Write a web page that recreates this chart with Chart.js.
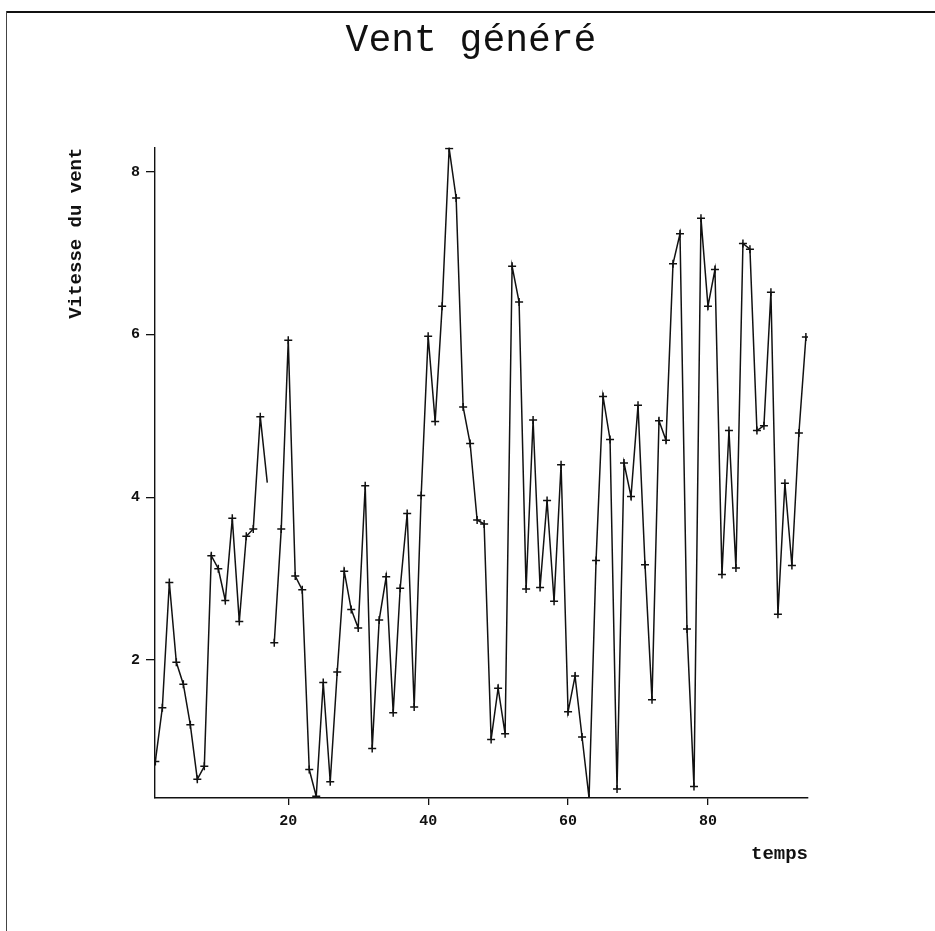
<!DOCTYPE html>
<html lang="fr">
<head>
<meta charset="utf-8">
<title>Vent généré</title>
<script src="https://cdn.jsdelivr.net/npm/chart.js@4.4.1/dist/chart.umd.min.js"></script>
<style>
  html, body { margin: 0; padding: 0; background: #fff; }
  #frame { position: relative; width: 935px; height: 931px; overflow: hidden; }
  #frame canvas { position: absolute; left: 0; top: 0; }
  .edge-top { position: absolute; left: 6px; right: 0; top: 11px; border-top: 2px solid #111; }
  .edge-left { position: absolute; left: 6px; top: 11px; bottom: 0; border-left: 1px solid #444; }
</style>
</head>
<body>
<div id="frame">
  <canvas id="wind-chart" width="935" height="931"></canvas>
  <div class="edge-top"></div>
  <div class="edge-left"></div>
</div>
<script>
const temps = [
  1, 2, 3, 4, 5, 6, 7, 8, 9, 10, 11, 12, 13, 14, 15, 16, 17, 18, 19, 20,
  21, 22, 23, 24, 25, 26, 27, 28, 29, 30, 31, 32, 33, 34, 35, 36, 37, 38, 39, 40,
  41, 42, 43, 44, 45, 46, 47, 48, 49, 50, 51, 52, 53, 54, 55, 56, 57, 58, 59, 60,
  61, 62, 63, 64, 65, 66, 67, 68, 69, 70, 71, 72, 73, 74, 75, 76, 77, 78, 79, 80,
  81, 82, 83, 84, 85, 86, 87, 88, 89, 90, 91, 92, 93, 94
];
const vitesses = [
  0.75, 1.41, 2.95, 1.97, 1.70, 1.20, 0.53, 0.69, 3.28, 3.12,
  2.73, 3.74, 2.47, 3.52, 3.61, 4.99, 4.18, 2.21, 3.61, 5.93,
  3.03, 2.86, 0.65, 0.32, 1.72, 0.50, 1.85, 3.09, 2.62, 2.39,
  4.14, 0.91, 2.49, 3.02, 1.35, 2.88, 3.80, 1.42, 4.02, 5.98,
  4.93, 6.35, 8.29, 7.68, 5.11, 4.66, 3.72, 3.67, 1.02, 1.65,
  1.09, 6.84, 6.40, 2.87, 4.95, 2.89, 3.96, 2.72, 4.40, 1.36,
  1.80, 1.05, 0.30, 3.22, 5.24, 4.71, 0.41, 4.42, 4.01, 5.13,
  3.17, 1.51, 4.94, 4.70, 6.87, 7.24, 2.38, 0.44, 7.43, 6.35,
  6.80, 3.05, 4.82, 3.13, 7.12, 7.05, 4.82, 4.88, 6.52, 2.56,
  4.17, 3.16, 4.79, 5.97
];
const xTicks = [20, 40, 60, 80];
const yTicks = [2, 4, 6, 8];
// the trace is interrupted after this step, which has no marker
const breakAfter = [17];

const ink = '#111';
const mono = "'Liberation Mono', 'DejaVu Sans Mono', monospace";

new Chart(document.getElementById('wind-chart'), {
  type: 'line',
  data: {
    datasets: [
      {
        data: temps.map((t, i) => ({ x: t, y: vitesses[i] })),
        borderColor: ink,
        borderWidth: 1.5,
        tension: 0,
        pointStyle: 'cross',
        pointRadius: (ctx) => (breakAfter.includes(ctx.raw && ctx.raw.x) ? 0 : 4),
        pointBorderColor: ink,
        pointBorderWidth: 1.5,
        segment: {
          borderColor: (ctx) => (breakAfter.includes(ctx.p0.parsed.x) ? 'rgba(0,0,0,0)' : undefined)
        }
      }
    ]
  },
  options: {
    responsive: false,
    animation: false,
    layout: { padding: { left: 58, right: 51, top: 0, bottom: 53 } },
    plugins: {
      legend: { display: false },
      tooltip: { enabled: false },
      title: {
        display: true,
        text: 'Vent généré',
        color: ink,
        font: { family: mono, size: 38, weight: 'normal' },
        padding: { top: 18, bottom: 84 }
      }
    },
    scales: {
      x: {
        type: 'linear',
        min: 0.95,
        max: 94.3,
        afterBuildTicks: (axis) => {
          axis.ticks = xTicks.map((value) => ({ value }));
        },
        afterFit: (axis) => {
          axis.height = 80;
        },
        grid: { display: true, drawOnChartArea: false, drawTicks: true, tickLength: 7, color: ink, lineWidth: 1.3 },
        border: { display: true, color: ink, width: 1.4 },
        ticks: {
          color: ink,
          padding: 7,
          autoSkip: false,
          maxRotation: 0,
          font: { family: mono, size: 15, weight: 'bold' }
        },
        title: {
          display: true,
          text: 'temps',
          align: 'end',
          color: ink,
          font: { family: mono, size: 19, weight: 'bold' },
          padding: { top: 0, bottom: 12 }
        }
      },
      y: {
        min: 0.3,
        max: 8.3,
        afterBuildTicks: (axis) => {
          axis.ticks = yTicks.map((value) => ({ value }));
        },
        afterFit: (axis) => {
          axis.width = 97;
        },
        grid: { display: true, drawOnChartArea: false, drawTicks: true, tickLength: 9, color: ink, lineWidth: 1.3 },
        border: { display: true, color: ink, width: 1.4 },
        ticks: {
          color: ink,
          padding: 6,
          font: { family: mono, size: 15, weight: 'bold' }
        },
        title: {
          display: true,
          text: 'Vitesse du vent',
          align: 'end',
          color: ink,
          font: { family: mono, size: 19, weight: 'bold' },
          padding: { top: 7, bottom: 0 }
        }
      },
      // empty right-hand margin so the title centres over the plot as in the original
      marge: {
        position: 'right',
        afterFit: (axis) => {
          axis.width = 76;
        },
        grid: { display: false },
        border: { display: false },
        ticks: { display: false }
      }
    }
  }
});
</script>
</body>
</html>
